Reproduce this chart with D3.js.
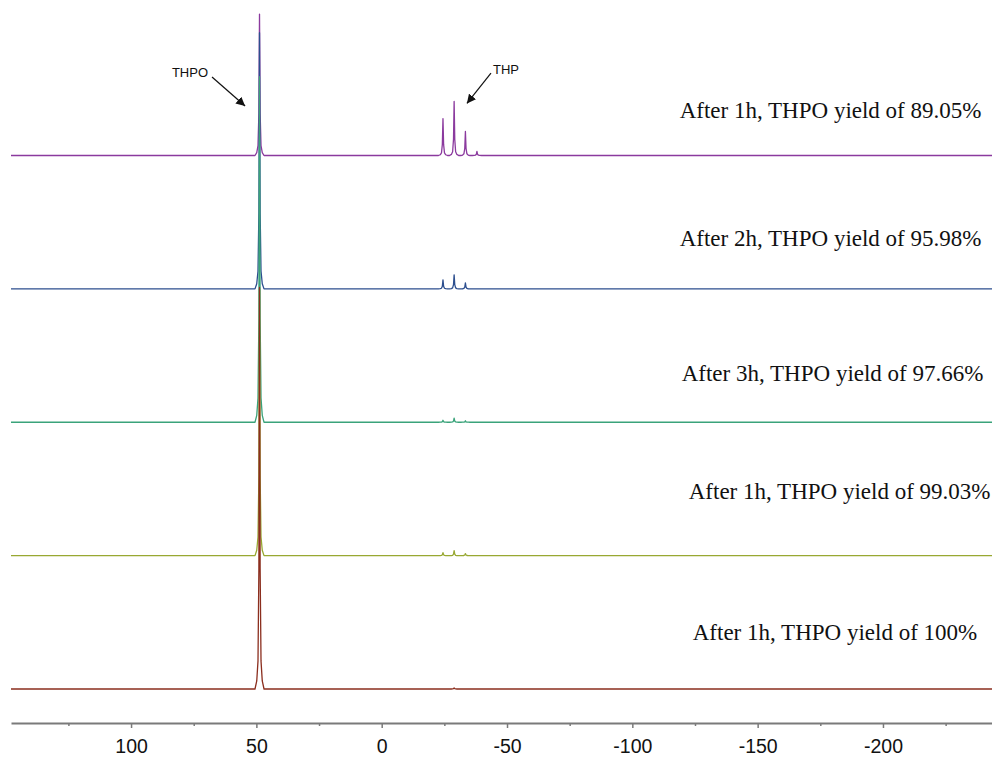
<!DOCTYPE html>
<html>
<head>
<meta charset="utf-8">
<script src="https://cdn.jsdelivr.net/npm/d3@7"></script>
<style>
	body { margin: 0; background: #fff; }
	svg { display: block; }
</style>
</head>
<body>
<div id="chart"></div>
<script>
// chemical shift (ppm) of the peaks
var peakPositions = [48.75, -24.45, -28.9, -33.4, -38.0];

// traces from top to bottom, drawn in this order
var traceNames = ["1h", "2h", "3h", "1h-b", "1h-c"];
var traceLabels = [
	"After 1h, THPO yield of 89.05%",
	"After 2h, THPO yield of 95.98%",
	"After 3h, THPO yield of 97.66%",
	"After 1h, THPO yield of 99.03%",
	"After 1h, THPO yield of 100%"
];
// intensities for each peak (relative units, 1 = spacing between traces)
var intensities1 = [1.06, 0.277, 0.405, 0.18, 0.03];
var intensities2 = [1.92, 0.067, 0.105, 0.045, 0];
var intensities3 = [2.59, 0.015, 0.03, 0.011, 0];
var intensities4 = [2.0, 0.022, 0.037, 0.015, 0];
var intensities5 = [3.01, 0, 0.008, 0, 0];

var majorTicks = [100, 50, 0, -50, -100, -150, -200];
var minorTicks = [125, 75, 25, -25, -75, -125, -175, -225];

var traceColors = ["#8b3a9e", "#2c4e8e", "#3aa37a", "#98a832", "#8b2e1e"];
// where each label starts (ppm) and its height above baseline (relative units)
var labelX = [-118.9, -118.9, -119.7, -122.5, -124.1];
var labelY = [0.28, 0.325, 0.31, 0.427, 0.365];

var W = 992, H = 758;
var svg = d3.select("#chart")
	.append("svg")
	.attr("width", W)
	.attr("height", H);

var x = d3.scaleLinear()
	.domain([147.9, -243.5])
	.range([11, 992]);

var yBase = d3.scalePoint()
	.domain(traceNames)
	.range([155.5, 689]);

var yInt = d3.scaleLinear()
	.domain([0, 1])
	.range([0, -133.4]);

// line shape of one peak: offset (ppm) and fraction of the height
var SHAPE_OFF = [-1.8, -1.1, -0.6, -0.25, 0, 0.25, 0.6, 1.1, 1.8];
var SHAPE_FRAC = [0, 0.02, 0.07, 0.3, 1, 0.3, 0.07, 0.02, 0];

var allIntensities = [intensities1, intensities2, intensities3, intensities4, intensities5];

var traces = traceNames.map(function(name, i) {
	var pts = [[x.domain()[0], 0]];
	var peaks = peakPositions.map((p, j) => ({ppm: p, h: allIntensities[i][j]}))
		.sort((a, b) => d3.descending(a.ppm, b.ppm));
	peaks.forEach(function(pk) {
		if (pk.h <= 0) return;
		SHAPE_OFF.forEach(function(o, k) {
			pts.push([pk.ppm - o, pk.h * SHAPE_FRAC[k]]);
		});
	});
	pts.push([x.domain()[1], 0]);
	return {name: name, color: traceColors[i], pts: pts};
});

var line = d3.line()
	.x(d => x(d[0]));

svg.append("g")
	.selectAll("path")
	.data(traces)
	.enter()
	.append("path")
	.attr("fill", "none")
	.attr("stroke", d => d.color)
	.attr("stroke-width", 1.3)
	.attr("stroke-linejoin", "round")
	.attr("d", d => line.y(p => yBase(d.name) + yInt(p[1]))(d.pts));

// labels
svg.append("g")
	.selectAll("text")
	.data(traceLabels)
	.enter()
	.append("text")
	.attr("x", (d, i) => x(labelX[i]))
	.attr("y", (d, i) => yBase(traceNames[i]) + yInt(labelY[i]))
	.attr("font-family", "'Times New Roman', 'Liberation Serif', serif")
	.style("font-size", "23px")
	.attr("fill", "#111")
	.text(d => d);

// axis
svg.append("g")
	.attr("transform", "translate(0,723)")
	.call(d3.axisBottom(x)
		.tickValues(minorTicks)
		.tickSize(3)
		.tickFormat(""))
	.select(".domain").remove();
var majorG = svg.append("g")
	.attr("transform", "translate(0,723)")
	.call(d3.axisBottom(x)
		.tickValues(majorTicks)
		.tickSize(5)
		.tickPadding(11)
		.tickSizeOuter(0)
		.tickFormat(d => String(d)));
majorG.select(".domain")
	.attr("stroke", "#7a7a7a")
	.attr("stroke-width", 2);
svg.selectAll(".tick line")
	.attr("stroke", "#7a7a7a")
	.attr("stroke-width", 1.5);
majorG.selectAll("text")
	.attr("font-family", "Arial, 'Liberation Sans', sans-serif")
	.style("font-size", "19.5px")
	.attr("fill", "#111");

// annotations
svg.append("defs").append("marker")
	.attr("id", "arrow")
	.attr("viewBox", "0 0 10 10")
	.attr("refX", 10)
	.attr("refY", 5)
	.attr("markerWidth", 9)
	.attr("markerHeight", 9)
	.attr("markerUnits", "userSpaceOnUse")
	.attr("orient", "auto")
	.append("path")
	.attr("d", "M0,0L10,5L0,10z")
	.attr("fill", "#111");

var annotations = [
	{text: "THPO", tx: 76.5, ty: 0.626, x1: 67.7, y1: 0.588, x2: 54.5, y2: 0.371},
	{text: "THP", tx: -49.6, ty: 0.648, x1: -43.6, y1: 0.618, x2: -34.0, y2: 0.39}
];
var topBase = yBase(traceNames[0]);
var ann = svg.append("g");
ann.selectAll("line")
	.data(annotations)
	.enter()
	.append("line")
	.attr("x1", d => x(d.x1))
	.attr("y1", d => topBase + yInt(d.y1))
	.attr("x2", d => x(d.x2))
	.attr("y2", d => topBase + yInt(d.y2))
	.attr("stroke", "#111")
	.attr("stroke-width", 1.2)
	.attr("marker-end", "url(#arrow)");
ann.selectAll("text")
	.data(annotations)
	.enter()
	.append("text")
	.attr("x", d => x(d.tx))
	.attr("y", d => topBase + yInt(d.ty))
	.attr("dy", "0.35em")
	.attr("text-anchor", "middle")
	.attr("font-family", "Arial, 'Liberation Sans', sans-serif")
	.style("font-size", "13px")
	.attr("fill", "#111")
	.text(d => d.text);
</script>
</body>
</html>
